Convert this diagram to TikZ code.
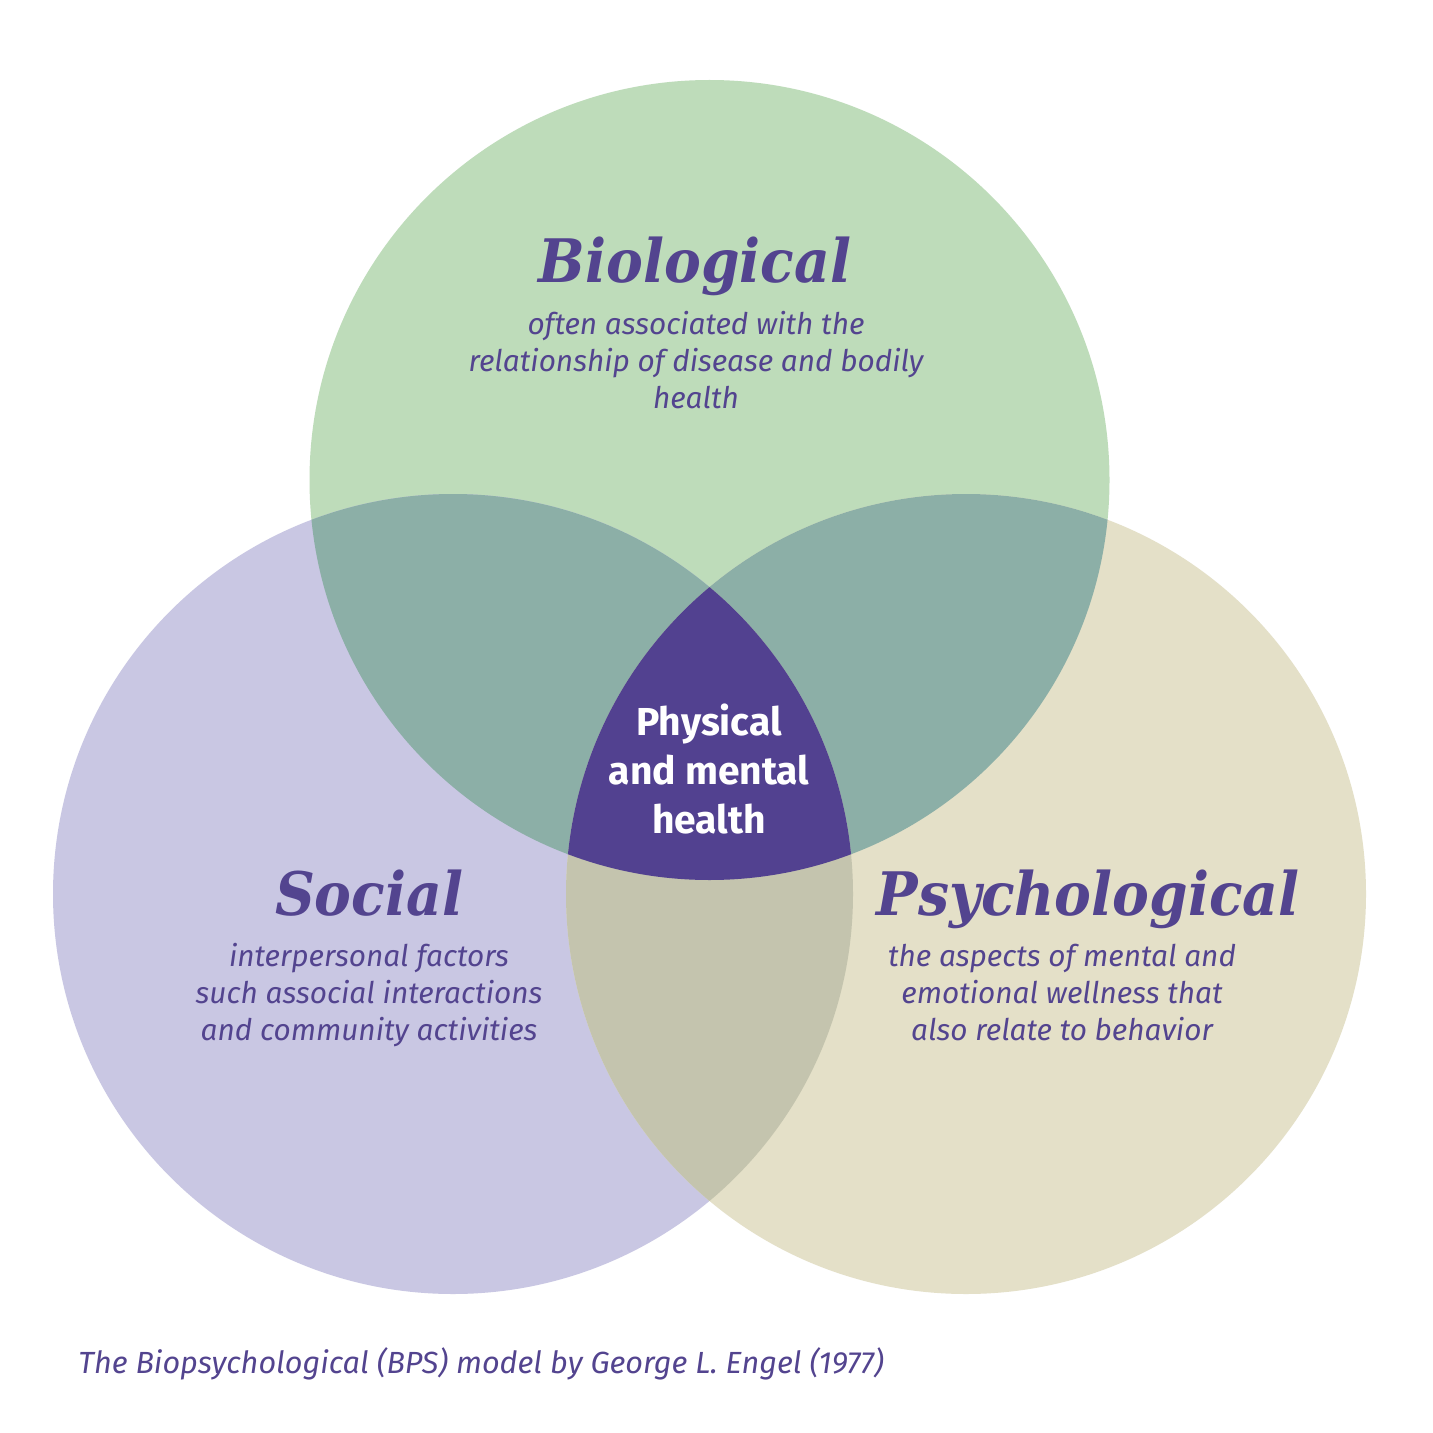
\documentclass[tikz,border=0pt]{standalone}
\usepackage{fontspec}
\setmainfont{Fira Sans}
\newfontfamily\headfont{DejaVu Serif}
\definecolor{cgreen}{HTML}{BEDCBA}
\definecolor{clav}{HTML}{C9C7E3}
\definecolor{ctan}{HTML}{E4E0C8}
\definecolor{cgo}{HTML}{8CAFA7}
\definecolor{cst}{HTML}{C4C4AE}
\definecolor{ccore}{HTML}{524190}
\definecolor{ctext}{HTML}{53448F}
\newcommand{\hsq}[1]{\scalebox{0.92}[1]{#1}}
\tikzset{
  head/.style={text=ctext, inner sep=0pt, anchor=base, font=\headfont\bfseries\itshape\fontsize{30}{34}\selectfont},
  body/.style={text=ctext, inner sep=0pt, anchor=base, align=center, font=\itshape\fontsize{14.9}{18.3}\selectfont},
  core/.style={text=white, inner sep=0pt, anchor=base, align=center, font=\bfseries\fontsize{19.5}{24.5}\selectfont},
  captext/.style={text=ctext, inner sep=0pt, anchor=base west, font=\itshape\fontsize{15.3}{17}\selectfont}
}
\begin{document}
\begin{tikzpicture}[x=0.5pt,y=-0.5pt]
\useasboundingbox[fill=white] (0,0) rectangle (1433,1433);
\coordinate (G) at (709.5,480);
\coordinate (S) at (453,894);
\coordinate (P) at (966,894);
\fill[cgreen] (G) circle[radius=200pt];
\fill[clav] (S) circle[radius=200pt];
\fill[ctan] (P) circle[radius=200pt];
\begin{scope}
  \clip (G) circle[radius=200pt];
  \fill[cgo] (S) circle[radius=200pt];
  \fill[cgo] (P) circle[radius=200pt];
\end{scope}
\begin{scope}
  \clip (S) circle[radius=200pt];
  \fill[cst] (P) circle[radius=200pt];
\end{scope}
\begin{scope}
  \clip (G) circle[radius=200pt];
  \clip (S) circle[radius=200pt];
  \fill[ccore] (P) circle[radius=200pt];
\end{scope}
\node[head] (bioh) at (695,283) {\hsq{Biological}};
\node[body] (biot) at (696,408) {often associated with the\\relationship of disease and bodily\\health};
\node[head] (soch) at (369,915) {\hsq{Social}};
\node[body] (soct) at (369,1040) {interpersonal factors\\such associal interactions\\and community activities};
\node[head] (psyh) at (1088,915) {\hsq{Psychological}};
\node[body] (psyt) at (1062,1040) {the aspects of mental and\\emotional wellness that\\also relate to behavior};
\node[core] (coret) at (709,833) {Physical\\and mental\\health};
\node[captext] (caption) at (78,1373) {The Biopsychological (BPS) model by George L. Engel (1977)};
\end{tikzpicture}
\end{document}
